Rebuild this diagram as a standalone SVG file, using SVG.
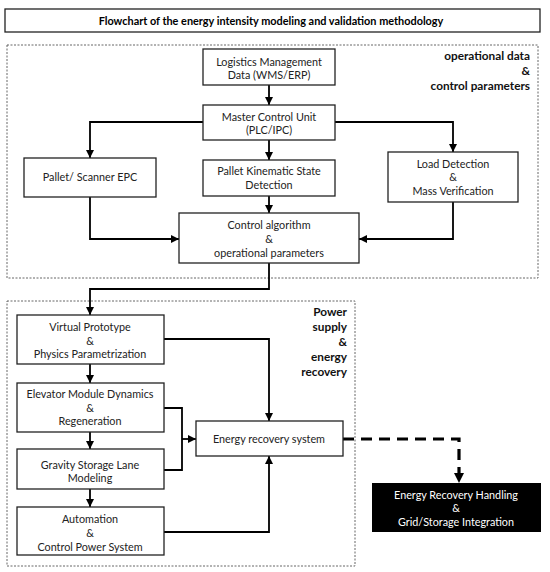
<svg xmlns="http://www.w3.org/2000/svg" width="550" height="572" viewBox="0 0 550 572">
<defs>
<style>
text{font-family:Lato,"Liberation Sans",sans-serif;font-size:10.8px;fill:#222;text-anchor:middle}
.b{fill:#fff;stroke:#222;stroke-width:1.3}
.title{font-weight:bold;font-size:10.9px;fill:#000}
.lbl{font-weight:bold;font-size:11.8px;text-anchor:end;fill:#111}
.grp{fill:none;stroke:#666;stroke-width:1;stroke-dasharray:2,1.5}
.c{fill:none;stroke:#000;stroke-width:1.8}
.d{fill:none;stroke:#000;stroke-width:3.2;stroke-dasharray:11,7}
.w{fill:#fff}
</style>
<marker id="a" viewBox="0 0 10 10" refX="10" refY="5" markerWidth="4.5" markerHeight="4.5" orient="auto" markerUnits="strokeWidth">
<path d="M0,0 L10,5 L0,10 z" fill="#000"/>
</marker>
<marker id="a2" viewBox="0 0 10 10" refX="10" refY="5" markerWidth="3.2" markerHeight="3.2" orient="auto" markerUnits="strokeWidth">
<path d="M0,0 L10,5 L0,10 z" fill="#000"/>
</marker>
</defs>
<rect width="550" height="572" fill="#fff"/>
<g id="title">
<rect x="5" y="9" width="535" height="23" fill="#fff" stroke="#222" stroke-width="1.3"/>
<text class="title" x="271" y="25">Flowchart of the energy intensity modeling and validation methodology</text>
</g>
<g id="group-operational">
<rect class="grp" x="7" y="45" width="531" height="233"/>
<text class="lbl" x="530" y="60">operational data</text>
<text class="lbl" x="530" y="75">&amp;</text>
<text class="lbl" x="530" y="90">control parameters</text>
</g>
<g id="group-power">
<rect class="grp" x="7" y="301" width="348" height="265"/>
<text class="lbl" x="347" y="316">Power</text>
<text class="lbl" x="347" y="331">supply</text>
<text class="lbl" x="347" y="346">&amp;</text>
<text class="lbl" x="347" y="361">energy</text>
<text class="lbl" x="347" y="376">recovery</text>
</g>
<g id="connectors">
<path class="c" d="M269,85 V105" marker-end="url(#a)"/>
<path class="c" d="M269,140 V160" marker-end="url(#a)"/>
<path class="c" d="M269,196 V213" marker-end="url(#a)"/>
<path class="c" d="M203,122 H90 V158" marker-end="url(#a)"/>
<path class="c" d="M335,122 H453 V152" marker-end="url(#a)"/>
<path class="c" d="M90,197 V239 H179" marker-end="url(#a)"/>
<path class="c" d="M453,202 V239 H359" marker-end="url(#a)"/>
<path class="c" d="M269,263 V289 H90 V315" marker-end="url(#a)"/>
<path class="c" d="M90,364 V383" marker-end="url(#a)"/>
<path class="c" d="M90,432 V449" marker-end="url(#a)"/>
<path class="c" d="M90,489 V507" marker-end="url(#a)"/>
<path class="c" d="M164,339 H269 V421" marker-end="url(#a)"/>
<path class="c" d="M164,408 H182 V470 H164"/>
<path class="c" d="M182,439 H196" marker-end="url(#a)"/>
<path class="c" d="M164,532 H269 V456" marker-end="url(#a)"/>
<path class="d" d="M343,439 H459 V483" marker-end="url(#a2)"/>
</g>
<g id="logistics">
<rect class="b" x="203" y="49" width="132" height="36"/>
<text x="269" y="66">Logistics Management</text>
<text x="269" y="79">Data (WMS/ERP)</text>
</g>
<g id="master">
<rect class="b" x="203" y="105" width="132" height="35"/>
<text x="269" y="121">Master Control Unit</text>
<text x="269" y="134">(PLC/IPC)</text>
</g>
<g id="pallet">
<rect class="b" x="24" y="158" width="132" height="39"/>
<text x="90" y="181">Pallet/ Scanner EPC</text>
</g>
<g id="kinematic">
<rect class="b" x="203" y="160" width="132" height="36"/>
<text x="269" y="175">Pallet Kinematic State</text>
<text x="269" y="189">Detection</text>
</g>
<g id="load">
<rect class="b" x="388" y="152" width="130" height="50"/>
<text x="453" y="168">Load Detection</text>
<text x="453" y="181">&amp;</text>
<text x="453" y="195">Mass Verification</text>
</g>
<g id="control">
<rect class="b" x="179" y="213" width="180" height="50"/>
<text x="269" y="229">Control algorithm</text>
<text x="269" y="243">&amp;</text>
<text x="269" y="257">operational parameters</text>
</g>
<g id="virtual">
<rect class="b" x="17" y="315" width="147" height="49"/>
<text x="90" y="331">Virtual Prototype</text>
<text x="90" y="345">&amp;</text>
<text x="90" y="358">Physics Parametrization</text>
</g>
<g id="elevator">
<rect class="b" x="17" y="383" width="147" height="49"/>
<text x="90" y="398">Elevator Module Dynamics</text>
<text x="90" y="412">&amp;</text>
<text x="90" y="425">Regeneration</text>
</g>
<g id="gravity">
<rect class="b" x="17" y="449" width="147" height="40"/>
<text x="90" y="469">Gravity Storage Lane</text>
<text x="90" y="482">Modeling</text>
</g>
<g id="automation">
<rect class="b" x="17" y="507" width="147" height="48"/>
<text x="90" y="523">Automation</text>
<text x="90" y="537">&amp;</text>
<text x="90" y="551">Control Power System</text>
</g>
<g id="energy">
<rect class="b" x="196" y="421" width="147" height="35"/>
<text x="269" y="443">Energy recovery system</text>
</g>
<g id="handling">
<rect x="372" y="483" width="169" height="49" fill="#000"/>
<text class="w" x="456" y="499">Energy Recovery Handling</text>
<text class="w" x="456" y="512">&amp;</text>
<text class="w" x="456" y="526">Grid/Storage Integration</text>
</g>
</svg>
